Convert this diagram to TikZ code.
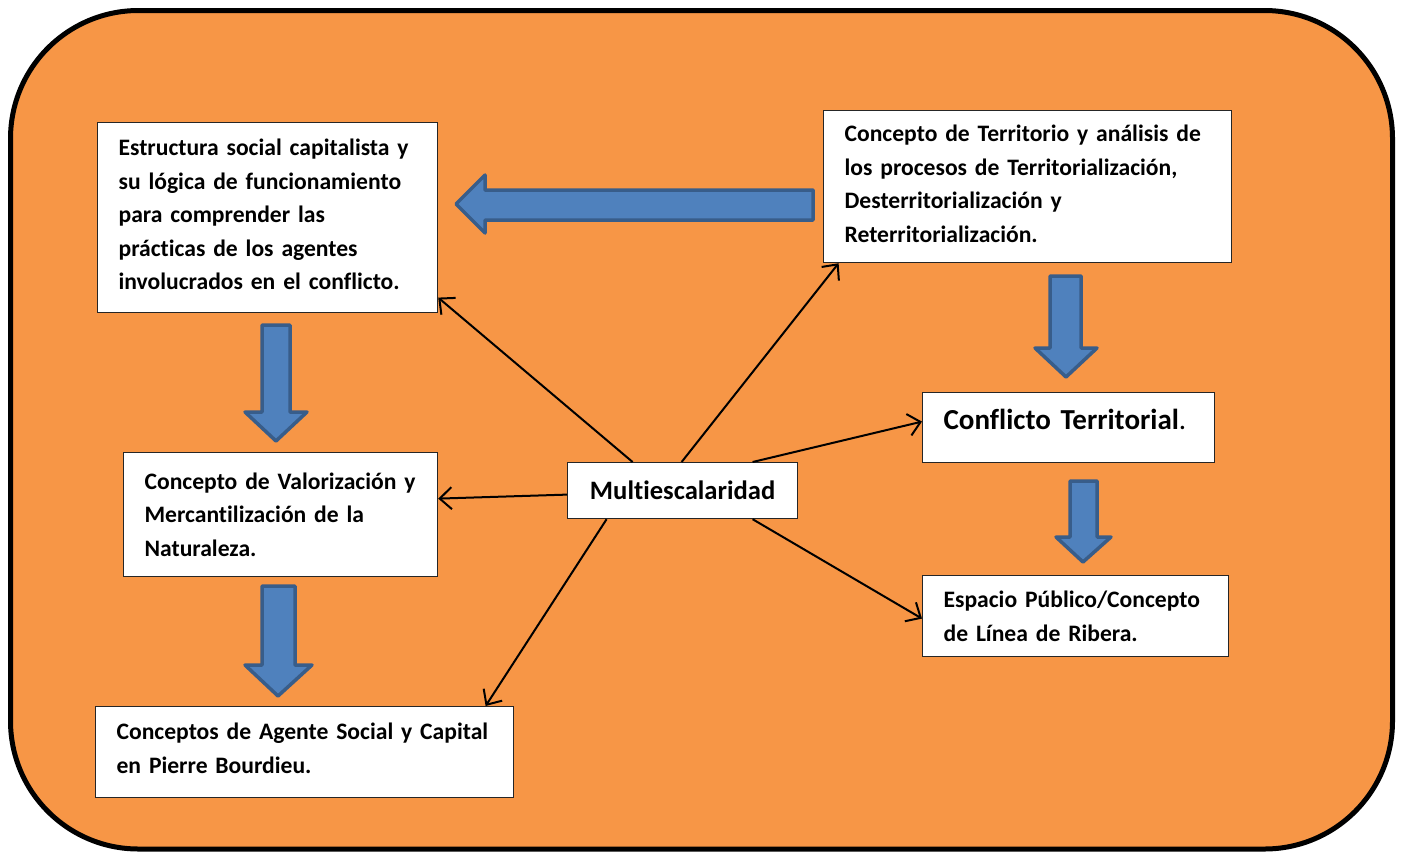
\documentclass[tikz,border=0pt]{standalone}
\usepackage{fontspec}
\setmainfont{Carlito}[Ligatures=NoCommon]
\usetikzlibrary{arrows.meta,calc}
\definecolor{bgorange}{HTML}{F79646}
\definecolor{arrowfill}{HTML}{4F81BD}
\definecolor{arrowline}{HTML}{385D8A}
\tikzset{
 box/.style={draw=black!85, line width=0.6pt, fill=white, anchor=north west, inner xsep=10.5pt, inner ysep=0pt, align=left, font=\bfseries\fontsize{11.8}{16.75}\selectfont, execute at begin node={\hyphenpenalty=10000\relax}},
 conn/.style={-{Straight Barb[length=6pt,width=11pt,line width=1pt]}, line width=1pt},
 blockarrow/.style={fill=arrowfill, draw=arrowline, line width=1.75pt, line join=round},
}
\begin{document}
\begin{tikzpicture}[x=0.5pt,y=-0.5pt]
\useasboundingbox (0,0) rectangle (1403,852);
\draw[fill=bgorange, line width=2.5pt, rounded corners=64pt] (10.5,10.5) rectangle (1392.5,849);

\node[box, text width=149pt, minimum height=95pt] (A) at (97,122)
 {\mbox{Estructura social capitalista y}\\\mbox{su lógica de funcionamiento}\\\mbox{para comprender las}\\\mbox{prácticas de los agentes}\\\mbox{involucrados en el conflicto.}\rule[-3pt]{0pt}{0pt}};
\node[box, text width=183pt, minimum height=76pt] (B) at (823,110)
 {\mbox{Concepto de Territorio y análisis de}\\\mbox{los procesos de Territorialización,}\\\mbox{Desterritorialización y}\\\mbox{Reterritorialización.}\rule[-3pt]{0pt}{0pt}};
\node[box, text width=136pt, minimum height=62pt] (C) at (123,452)
 {\mbox{Concepto de Valorización y}\\\mbox{Mercantilización de la}\\\mbox{Naturaleza.}};
\node[box, text width=188pt, minimum height=45.5pt] (D) at (95,706)
 {\mbox{Conceptos de Agente Social y Capital}\\\mbox{en Pierre Bourdieu.}\rule[-4pt]{0pt}{0pt}};
\node[box, text width=132pt, minimum height=40.5pt] (F) at (922,575)
 {\mbox{Espacio Público/Concepto}\\\mbox{de Línea de Ribera.}};
\node[box, text width=94pt, minimum height=28pt, align=center, font=\bfseries\fontsize{13.3}{16}\selectfont] (M) at (567,462)
 {Multiescalaridad};
\node[box, text width=125pt, minimum height=35pt, font=\bfseries\fontsize{14.5}{18}\selectfont] (E) at (922,392)
 {\mbox{Conflicto Territorial{\mdseries .}}\rule[-8pt]{0pt}{0pt}};

% connectors
\draw[conn] ([xshift=-25pt]M.north) -- ([yshift=-40pt]A.east);
\draw[conn] ([xshift=-0.5pt]M.north) -- ([xshift=-94.5pt]B.south);
\draw[conn] ([xshift=35pt]M.north) -- ([yshift=3pt]E.west);
\draw[conn] ([yshift=-2pt]M.west) -- ([yshift=8pt]C.east);
\draw[conn] ([xshift=-38pt]M.south) -- ([xshift=90.5pt]D.north);
\draw[conn] ([xshift=35pt]M.south) -- ([yshift=-1.25pt]F.west);

% block arrows
\draw[blockarrow] (813,190) -- (485,190) -- (485,175) -- (456,204) -- (485,233) -- (485,220) -- (813,220) -- cycle;
\draw[blockarrow] (262,325) -- (290,325) -- (290,412) -- (307,412) -- (276,441) -- (245,412) -- (262,412) -- cycle;
\draw[blockarrow] (262,586) -- (295,586) -- (295,665) -- (312,665) -- (278,696) -- (245,665) -- (262,665) -- cycle;
\draw[blockarrow] (1050,276) -- (1081,276) -- (1081,348) -- (1097,348) -- (1066,377) -- (1035,348) -- (1050,348) -- cycle;
\draw[blockarrow] (1070,481) -- (1097,481) -- (1097,537) -- (1111,537) -- (1083,562) -- (1056,537) -- (1070,537) -- cycle;
\end{tikzpicture}
\end{document}
